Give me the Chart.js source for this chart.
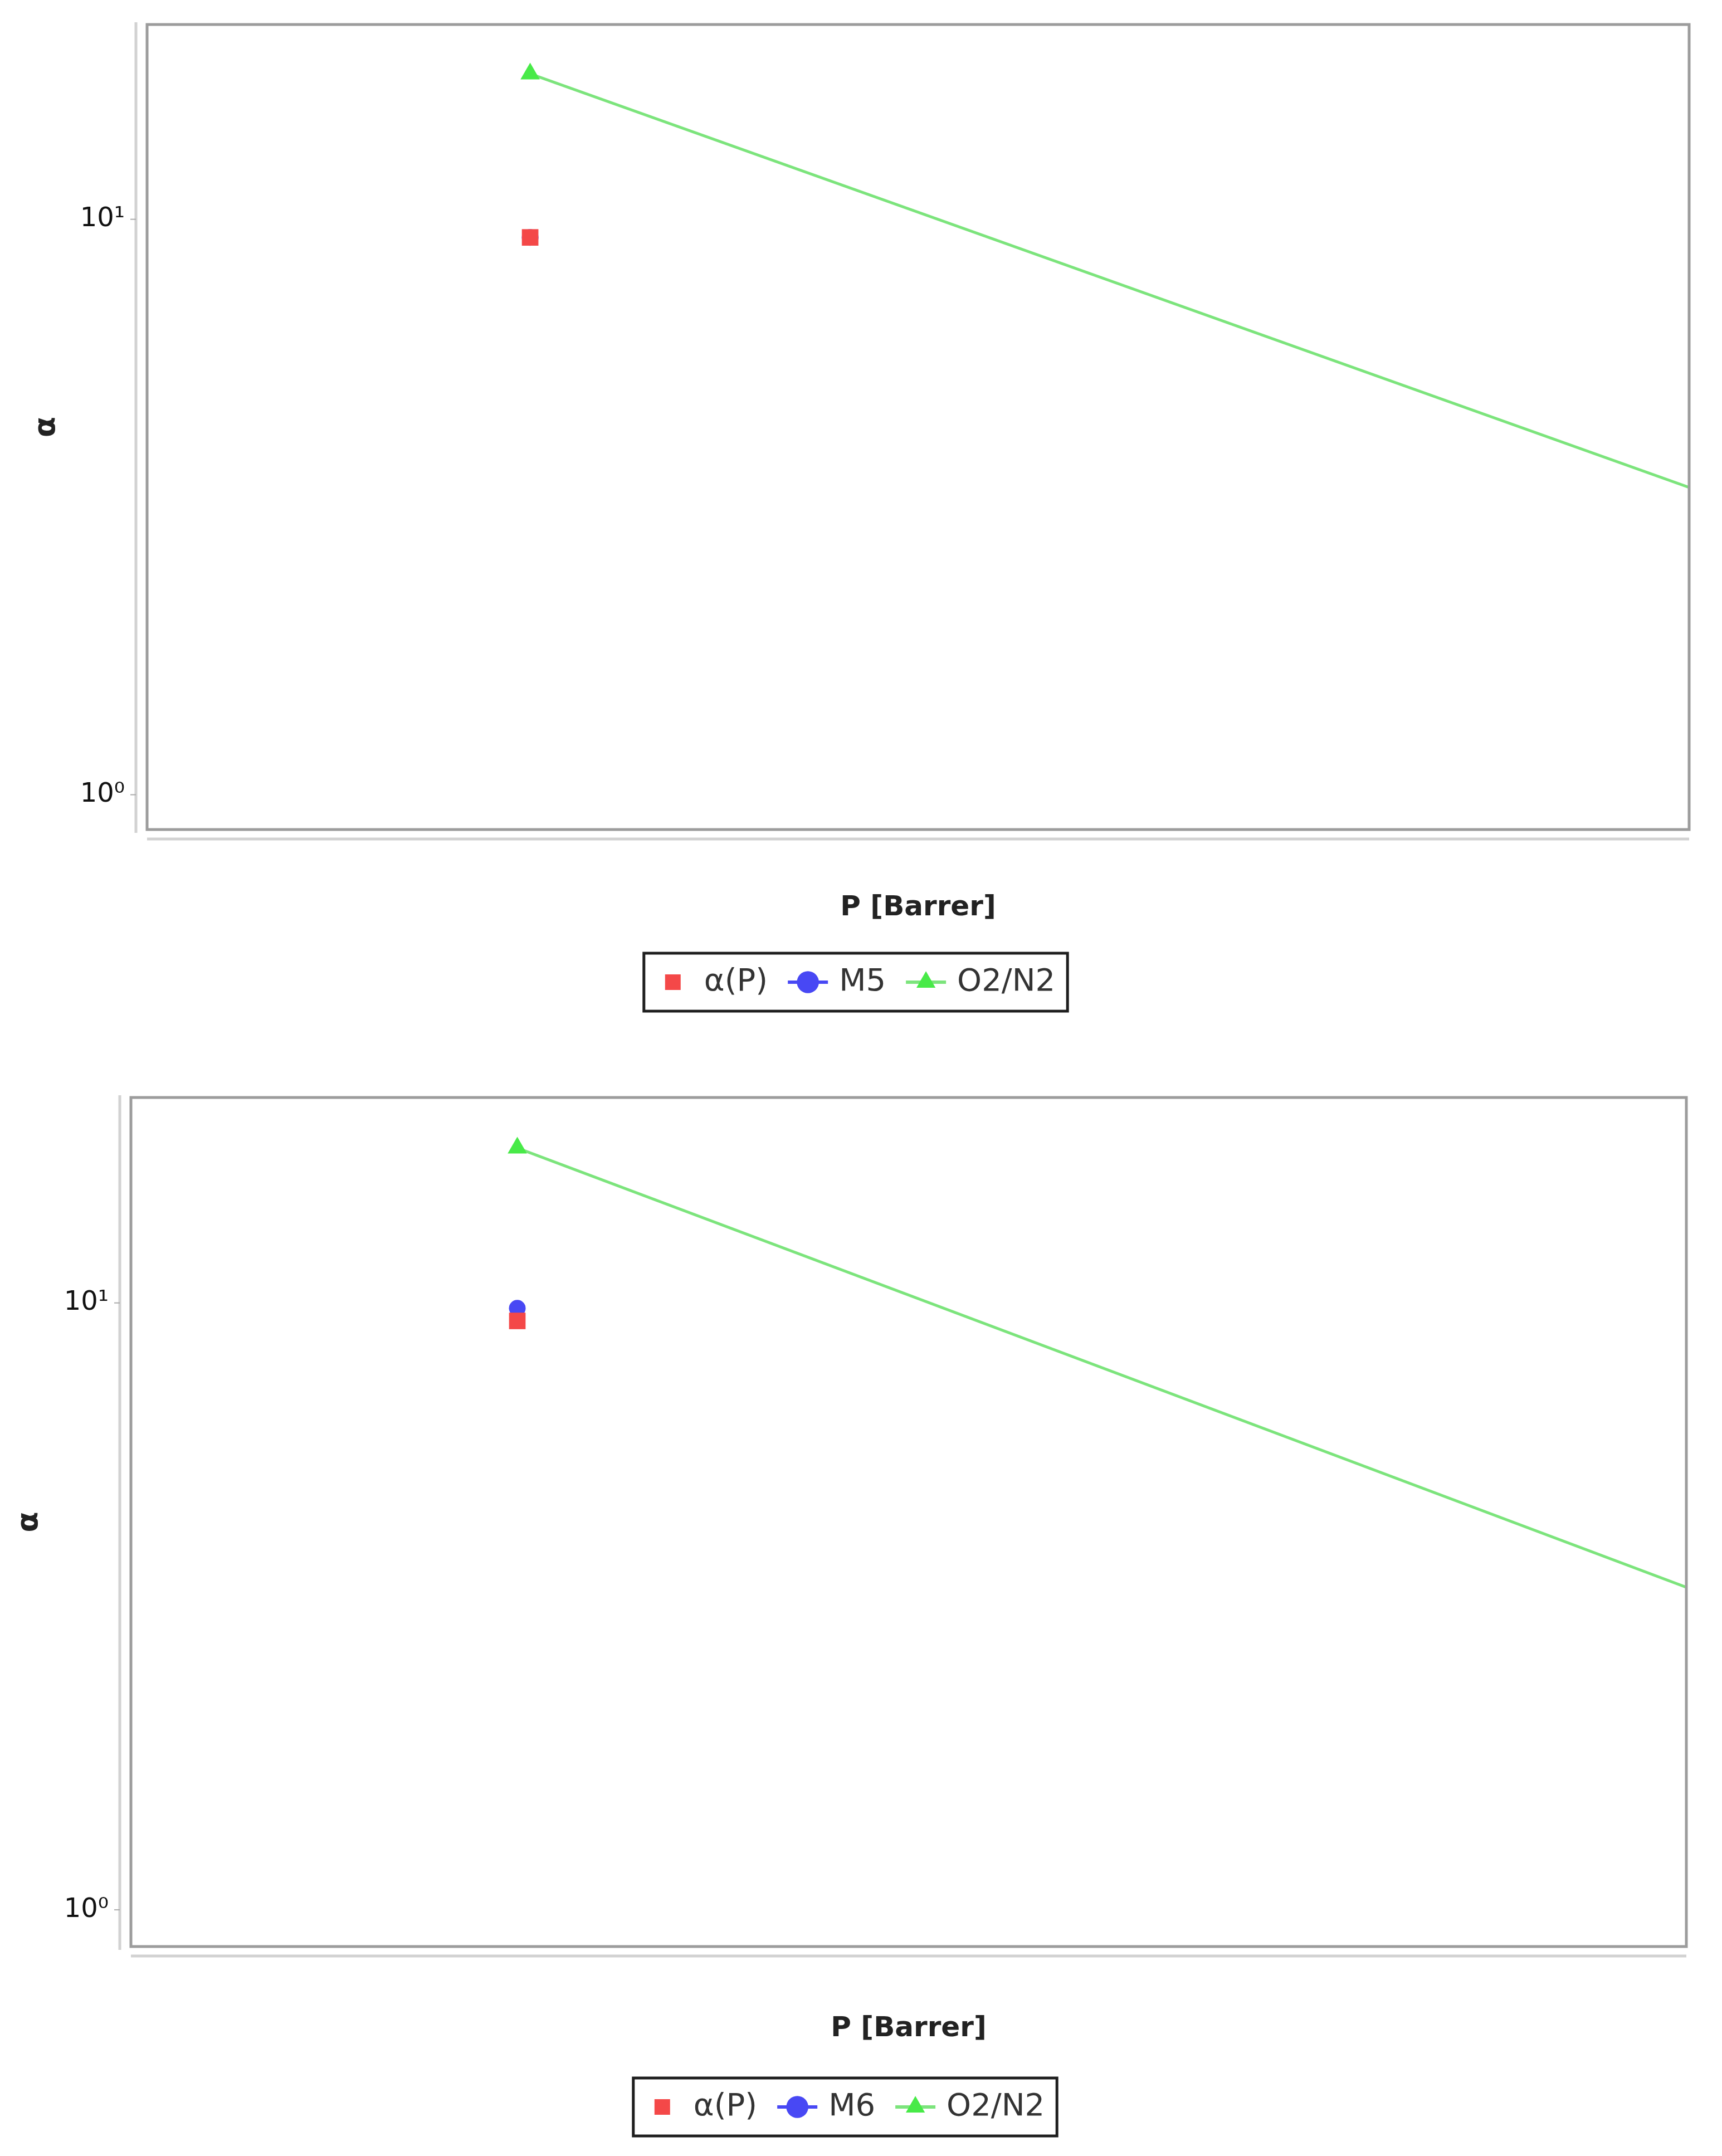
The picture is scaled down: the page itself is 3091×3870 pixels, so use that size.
<!DOCTYPE html>
<html lang="en">
<head>
<meta charset="UTF-8">
<title>Selectivity vs permeability</title>
<script src="https://cdn.jsdelivr.net/npm/chart.js"></script>
<style>
  html, body { margin: 0; padding: 0; background: #fff; }
  body { width: 3091px; height: 3870px; position: relative; overflow: hidden; }
  canvas { position: absolute; left: 0; }
  #chartM5 { top: 0; }
  #chartM6 { top: 1900px; }
</style>
</head>
<body>
<canvas id="chartM5" width="3091" height="1900"></canvas>
<canvas id="chartM6" width="3091" height="1970"></canvas>

<script>
// permeability of the membrane point (Barrer) - x ticks are not shown in the figure
const membraneP = [0.111];
// alpha(P)
const alphaP_M5 = [9.3];
const alphaP_M6 = [9.34];
// measured selectivity
const measured_M5 = [9.3];
const measured_M6 = [9.8];
// O2/N2 upper bound line
const boundP = [0.111, 1315];
const bound_M5 = [17.9, 3.42];
const bound_M6 = [18.0, 3.40];

const legendNames_M5 = ['α(P)', 'M5', 'O2/N2'];
const legendNames_M6 = ['α(P)', 'M6', 'O2/N2'];

const xRange = [0.005, 1315];
const yRange = [0.87, 21.8];
const yTicks = [1, 10];
const yTickLabels = ['10⁰', '10¹'];

const RED = '#f44848';
const BLUE = '#4848f4';
const GREEN = '#48ea48';
const LEGEND_FONT = 56;

function pts(xs, ys) {
    return ys.map((y, i) => ({ x: xs[i], y: y }));
}

// frame around the plot, offset axis lines, tick marks and legend decorations
const framePlugin = {
    id: 'frame',
    beforeDraw(chart) {
        const ctx = chart.ctx;
        const legend = chart.legend;
        const boxes = legend.legendHitBoxes;
        if (!boxes || !boxes.length) return;
        ctx.save();
        const cy = boxes[0].top + LEGEND_FONT / 2;
        legend.legendItems.forEach((item, i) => {
            const ds = chart.data.datasets[item.datasetIndex];
            if (!ds.legendLine) return;
            const cx = boxes[i].left + LEGEND_FONT / 2;
            ctx.strokeStyle = ds.borderColor;
            ctx.lineWidth = 6;
            ctx.beginPath();
            ctx.moveTo(cx - 36, cy);
            ctx.lineTo(cx + 36, cy);
            ctx.stroke();
        });
        const last = boxes[boxes.length - 1];
        const left = boxes[0].left - 24;
        const right = last.left + last.width + 22;
        ctx.strokeStyle = '#1e1e1e';
        ctx.lineWidth = 5;
        ctx.strokeRect(left, cy - 52, right - left, 104);
        ctx.restore();
    },
    afterDraw(chart) {
        const ctx = chart.ctx;
        const a = chart.chartArea;
        ctx.save();
        // offset axis lines
        ctx.strokeStyle = '#d2d2d2';
        ctx.lineWidth = 5;
        ctx.beginPath();
        ctx.moveTo(a.left - 20, a.top - 4);
        ctx.lineTo(a.left - 20, a.bottom + 6);
        ctx.moveTo(a.left, a.bottom + 17);
        ctx.lineTo(a.right, a.bottom + 17);
        ctx.stroke();
        // tick marks
        ctx.strokeStyle = '#aaa';
        ctx.lineWidth = 2;
        yTicks.forEach(v => {
            const y = chart.scales.y.getPixelForValue(v);
            ctx.beginPath();
            ctx.moveTo(a.left - 30, y);
            ctx.lineTo(a.left - 20, y);
            ctx.stroke();
        });
        // plot frame
        ctx.strokeStyle = '#9c9c9c';
        ctx.lineWidth = 5;
        ctx.strokeRect(a.left, a.top, a.right - a.left, a.bottom - a.top);
        ctx.restore();
    }
};

function makeChart(id, names, alphaP, measured, bound, geo) {
    const ctx = document.getElementById(id).getContext('2d');
    const chart = new Chart(ctx, {
        type: 'scatter',
        data: {
            datasets: [
                {
                    label: names[0],
                    data: pts(membraneP, alphaP),
                    pointStyle: 'rect',
                    pointRadius: 21,
                    backgroundColor: RED,
                    borderColor: RED,
                    borderWidth: 0
                },
                {
                    label: names[1],
                    data: pts(membraneP, measured),
                    pointStyle: 'circle',
                    pointRadius: 15,
                    backgroundColor: BLUE,
                    borderColor: BLUE,
                    borderWidth: 0,
                    legendLine: true
                },
                {
                    label: names[2],
                    data: pts(boundP, bound),
                    showLine: true,
                    pointStyle: 'triangle',
                    pointRadius: [20, 0],
                    backgroundColor: GREEN,
                    borderColor: 'rgba(110, 225, 110, 0.9)',
                    borderWidth: 5,
                    pointBorderWidth: 0,
                    pointBackgroundColor: GREEN,
                    legendLine: true
                }
            ]
        },
        options: {
            responsive: false,
            animation: false,
            devicePixelRatio: 1,
            layout: {
                padding: { top: geo.top, right: geo.right, left: geo.padLeft, bottom: 40 }
            },
            plugins: {
                tooltip: { enabled: false },
                legend: {
                    position: 'bottom',
                    labels: {
                        usePointStyle: true,
                        boxWidth: LEGEND_FONT,
                        boxHeight: 28,
                        padding: 44,
                        color: '#333',
                        font: { family: 'DejaVu Sans', size: LEGEND_FONT }
                    }
                }
            },
            scales: {
                x: {
                    type: 'logarithmic',
                    min: xRange[0],
                    max: xRange[1],
                    grid: { display: false },
                    border: { display: false },
                    ticks: { display: false },
                    title: {
                        display: true,
                        text: 'P [Barrer]',
                        color: '#222',
                        font: { family: 'DejaVu Sans', size: 50, weight: 'bold' },
                        padding: { top: 0, bottom: geo.xTitlePad }
                    },
                    afterFit(scale) { scale.height = geo.xHeight; }
                },
                y: {
                    type: 'logarithmic',
                    min: yRange[0],
                    max: yRange[1],
                    grid: { display: false },
                    border: { display: false },
                    afterBuildTicks(scale) {
                        scale.ticks = yTicks.map(v => ({ value: v }));
                    },
                    ticks: {
                        padding: 32,
                        color: '#111',
                        font: { family: 'DejaVu Sans', size: 48 },
                        callback: (v) => {
                            const i = yTicks.indexOf(v);
                            return i >= 0 ? yTickLabels[i] : '';
                        }
                    },
                    title: {
                        display: true,
                        text: 'α',
                        color: '#222',
                        font: { family: 'DejaVu Sans', size: 54, weight: 'bold' },
                        padding: { top: geo.yTitlePad, bottom: 0 }
                    },
                    afterFit(scale) {
                        scale.width = geo.left - geo.padLeft;
                        scale.paddingTop = 0;
                        scale.paddingBottom = 0;
                    }
                }
            }
        },
        plugins: [framePlugin]
    });
    // pin the plot area to the reference box
    for (let k = 0; k < 3; k++) {
        const a = chart.chartArea;
        const pad = chart.options.layout.padding;
        const dTop = a.top - geo.top;
        const dBottom = a.bottom - geo.bottom;
        if (Math.abs(dTop) < 0.5 && Math.abs(dBottom) < 0.5) break;
        pad.top = pad.top - dTop;
        pad.bottom = Math.max(0, pad.bottom + dBottom);
        chart.update('none');
    }
    return chart;
}

makeChart('chartM5', legendNames_M5, alphaP_M5, measured_M5, bound_M5,
    { top: 44, right: 59, left: 264, padLeft: 42, bottom: 1489, xHeight: 202, xTitlePad: 31, yTitlePad: 10 });
makeChart('chartM6', legendNames_M6, alphaP_M6, measured_M6, bound_M6,
    { top: 70, right: 64, left: 235, padLeft: 9, bottom: 1594, xHeight: 216, xTitlePad: 38, yTitlePad: 12 });
</script>
</body>
</html>
